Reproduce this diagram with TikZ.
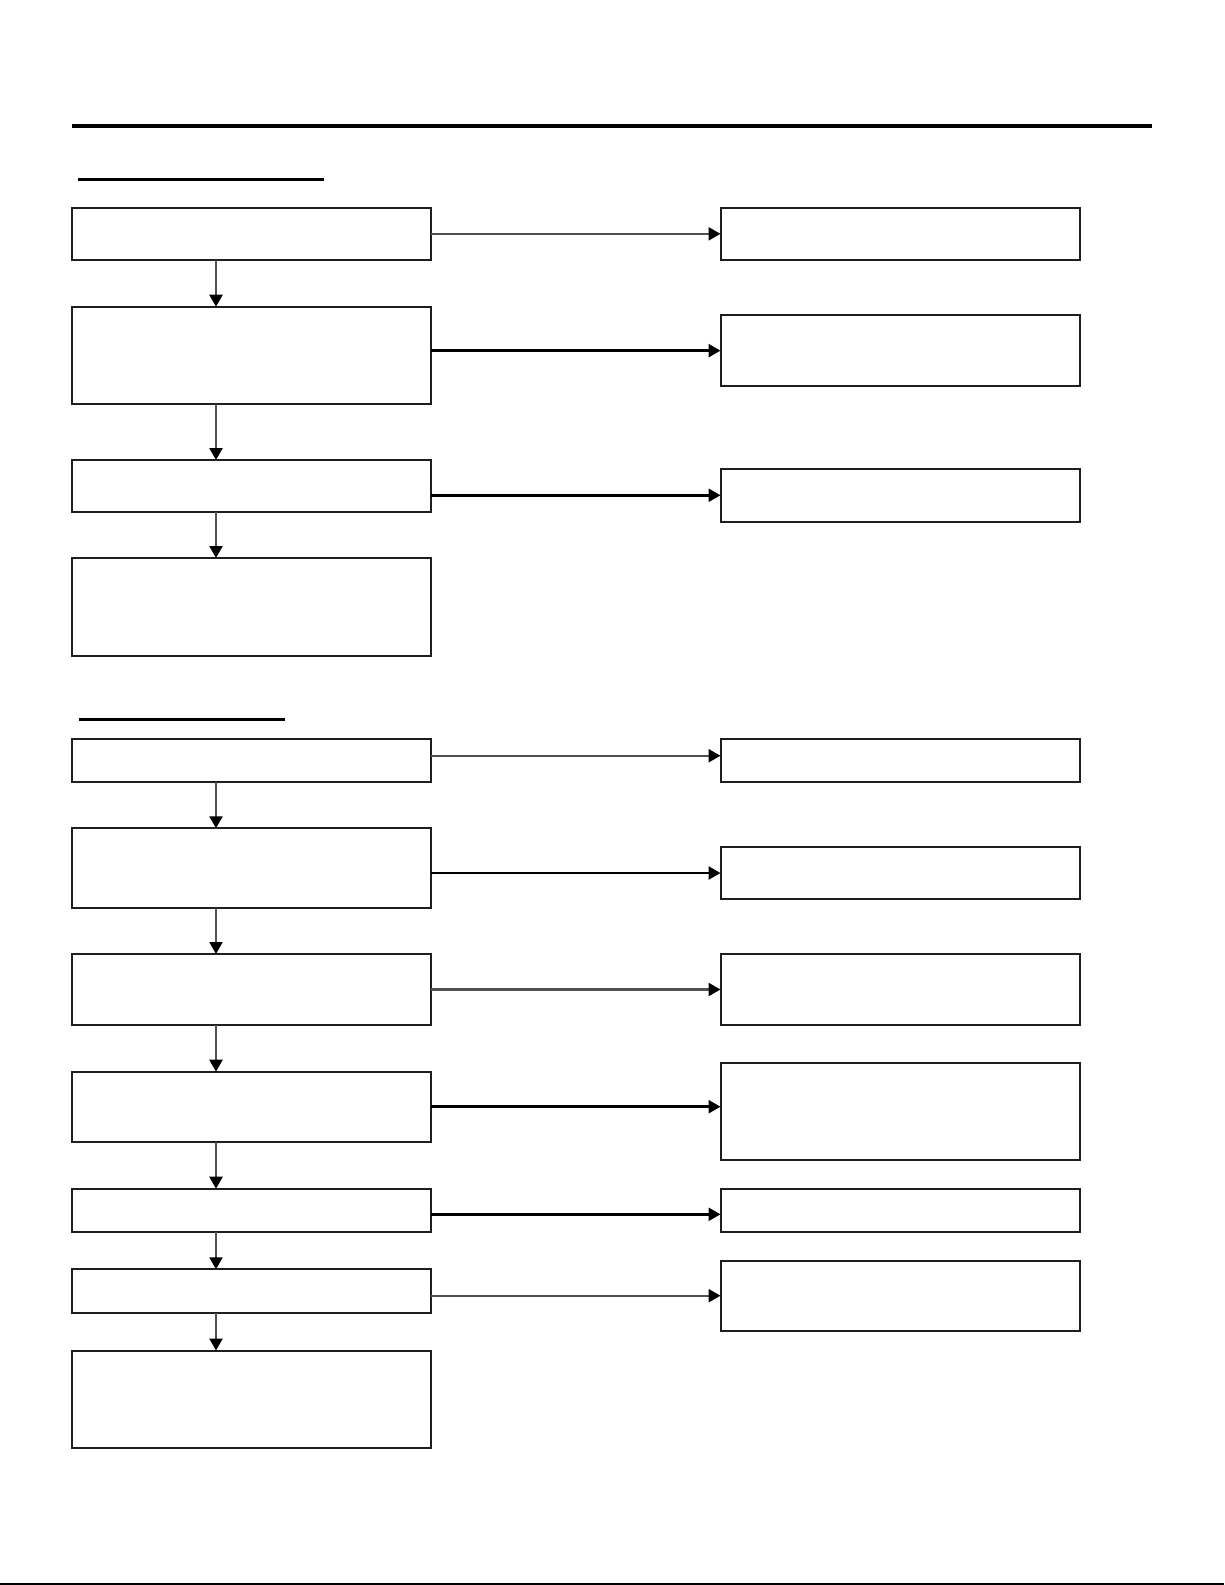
\documentclass[tikz,border=0pt]{standalone}
\usetikzlibrary{arrows.meta,calc}

\tikzset{every picture/.style={line width=1pt}}
\tikzset{
  box/.style={draw={rgb,255:red,30;green,30;blue,30}, line width=1pt, rectangle, anchor=north west,
    inner sep=0pt, outer sep=0pt, minimum width=179.5pt, minimum height=#1*0.5pt},
  tip/.style={-{Triangle[length=6pt,width=6.5pt,color=black]}},
  garr/.style={tip, draw={rgb,255:red,80;green,80;blue,80}, line width=1.2pt},
  barr/.style={tip, draw=black, line width=1.3pt}
}

\begin{document}
\begin{tikzpicture}[x=0.5pt,y=0.5pt,yscale=-1]
	\useasboundingbox (0,0) rectangle (1225,1585);
	\draw [line width=2pt] (72,125.7) -- (1152,125.7);
	\draw [line width=1.3pt] (78,179.7) -- (324,179.7);
	\draw [line width=1.3pt] (79,719.5) -- (285,719.5);
	\draw [line width=1pt] (0,1584) -- (1224,1584);
	\coordinate (ax) at (216,0);
	% first part
	\node [box=52.3] (L1) at (72,207.7) {};
	\node [box=97.6] (L2) at (72,306.7) {};
	\node [box=52.4] (L3) at (72,460) {};
	\node [box=98] (L4) at (72,558) {};
	\node [box=52.3] (R1) at (720.5,207.7) {};
	\node [box=70.7] (R2) at (720.5,315.3) {};
	\node [box=52.5] (R3) at (720.5,469) {};
	% second part
	\node [box=43.5] (L5) at (72,738.5) {};
	\node [box=80] (L6) at (72,828.3) {};
	\node [box=71] (L7) at (72,954) {};
	\node [box=70] (L8) at (72,1071.7) {};
	\node [box=43.6] (L9) at (72,1188.7) {};
	\node [box=43.7] (L10) at (72,1269.3) {};
	\node [box=97] (L11) at (72,1350.5) {};
	\node [box=43.5] (R5) at (720.5,738.5) {};
	\node [box=52.6] (R6) at (720.5,846.7) {};
	\node [box=71] (R7) at (720.5,954) {};
	\node [box=97] (R8) at (720.5,1062.7) {};
	\node [box=43.6] (R9) at (720.5,1188.7) {};
	\node [box=70] (R10) at (720.5,1260.7) {};
	% down arrows
	\draw [garr] (L1.south -| ax) -- (L2.north -| ax);
	\draw [garr] (L2.south -| ax) -- (L3.north -| ax);
	\draw [garr] (L3.south -| ax) -- (L4.north -| ax);
	\draw [garr] (L5.south -| ax) -- (L6.north -| ax);
	\draw [garr] (L6.south -| ax) -- (L7.north -| ax);
	\draw [garr] (L7.south -| ax) -- (L8.north -| ax);
	\draw [garr] (L8.south -| ax) -- (L9.north -| ax);
	\draw [garr] (L9.south -| ax) -- (L10.north -| ax);
	\draw [garr] (L10.south -| ax) -- (L11.north -| ax);
	% side arrows
	\draw [garr] (L1.east) -- (R1.west);
	\draw [barr] (L2.east |- R2.west) -- (R2.west);
	\draw [barr] (L3.east |- R3.west) -- (R3.west);
	\draw [garr] ($(L5.east)+(0,-4.5)$) -- ($(R5.west)+(0,-4.5)$);
	\draw [barr] (L6.east |- R6.west) -- (R6.west);
	\draw [garr] (L7.east) -- (R7.west);
	\draw [barr] (L8.east) -- (R8.west |- L8.east);
	\draw [barr] ($(L9.east)+(0,3.8)$) -- ($(R9.west)+(0,3.8)$);
	\draw [garr] (L10.east |- R10.west) -- (R10.west);
\end{tikzpicture}
\end{document}
